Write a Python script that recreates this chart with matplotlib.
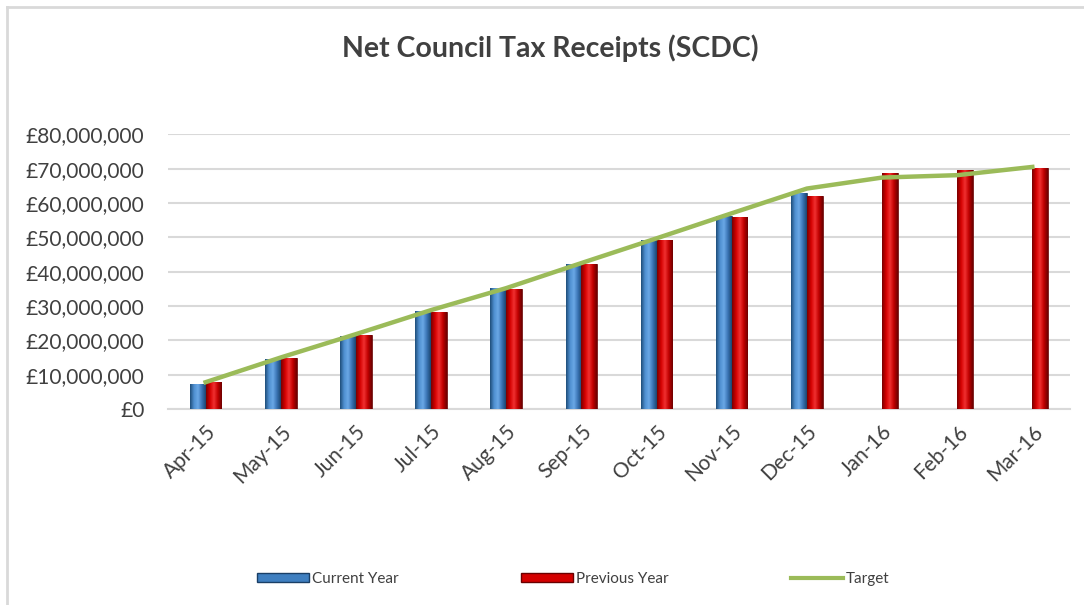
import numpy as np
import matplotlib
matplotlib.use("Agg")
import matplotlib.pyplot as plt
from matplotlib.colors import LinearSegmentedColormap
from matplotlib.lines import Line2D
from matplotlib.patches import Patch

plt.rcParams['font.family'] = ['Lato', 'DejaVu Sans']

# Monthly figures (GBP)
months = ["Apr-15", "May-15", "Jun-15", "Jul-15", "Aug-15", "Sep-15",
          "Oct-15", "Nov-15", "Dec-15", "Jan-16", "Feb-16", "Mar-16"]
current_year = [7.3e6, 14.5e6, 21.2e6, 28.5e6, 35.2e6, 42.2e6,
                49.2e6, 56.1e6, 62.8e6]
previous_year = [7.9e6, 14.9e6, 21.5e6, 28.2e6, 34.9e6, 42.1e6,
                 49.1e6, 55.8e6, 62.0e6, 68.6e6, 69.5e6, 70.3e6]
target = [7.8e6, 15.0e6, 21.8e6, 28.8e6, 35.2e6, 42.5e6,
          49.7e6, 57.0e6, 64.2e6, 67.4e6, 68.1e6, 70.5e6]

blue_map = LinearSegmentedColormap.from_list(
    "cyl_blue", ["#1f4e7a", "#4f8fd0", "#6aa8e6", "#3a74b4", "#1c4670"])
red_map = LinearSegmentedColormap.from_list(
    "cyl_red", ["#7a0000", "#d40000", "#f03030", "#c00000", "#6e0000"])


def shade_bars(ax, bars, cmap):
    # paint each bar with a horizontal gradient so it looks like a cylinder
    grad = np.linspace(0, 1, 64).reshape(1, -1)
    for b in bars:
        x0, y0 = b.get_x(), b.get_y()
        w, h = b.get_width(), b.get_height()
        im = ax.imshow(grad, cmap=cmap, aspect="auto",
                       extent=(x0, x0 + w, y0, y0 + h), zorder=b.get_zorder())
        im.set_clip_path(b)
        b.set_facecolor("none")


fig = plt.figure(figsize=(10.84, 6.05), dpi=100)
ax = fig.add_axes([0.155, 0.324, 0.832, 0.454])

x = np.arange(len(months))
w = 0.21
cb = ax.bar(x[:len(current_year)] - w / 2, current_year, w,
            edgecolor="#1a3f66", linewidth=0.6, zorder=3)
pb = ax.bar(x + w / 2, previous_year, w,
            edgecolor="#6a0000", linewidth=0.6, zorder=3)
shade_bars(ax, cb, blue_map)
shade_bars(ax, pb, red_map)
ax.plot(x, target, color="#9bbb59", linewidth=3.2, zorder=4)

ax.set_xlim(-0.5, len(months) - 0.5)
ax.set_ylim(0, 80e6)
ax.set_yticks(np.arange(0, 80e6 + 1, 10e6))
ax.set_yticklabels(["£{:,.0f}".format(v) for v in np.arange(0, 80e6 + 1, 10e6)])
ax.set_xticks(x)
ax.set_xticklabels(months, rotation=45, ha="right", va="top",
                   rotation_mode="anchor")
ax.tick_params(axis="both", length=0, labelsize=15, colors="#404040")
ax.tick_params(axis="x", pad=9)
ax.tick_params(axis="y", pad=17)
ax.grid(axis="y", color="#d9d9d9", linewidth=1.5, zorder=0)
ax.set_axisbelow(True)
for s in ["top", "right", "left"]:
    ax.spines[s].set_visible(False)
ax.spines["bottom"].set_color("#d9d9d9")
ax.spines["bottom"].set_linewidth(1.5)

fig.text(0.508, 0.921, "Net Council Tax Receipts (SCDC)", ha="center",
         va="center", fontsize=20.5, fontweight="bold", color="#404040")

handles = [Patch(facecolor="#3f7fc0", edgecolor="#1a3f66"),
           Patch(facecolor="#d40000", edgecolor="#6a0000"),
           Line2D([0], [0], color="#9bbb59", linewidth=3)]
fig.legend(handles, ["Current Year", "Previous Year", "Target"],
           loc="center", bbox_to_anchor=(0.529, 0.043), ncol=3, frameon=False,
           fontsize=11, handlelength=3.4, handleheight=0.5,
           handletextpad=0.2, columnspacing=8.0, labelcolor="#404040")

# chart frame (left and top edges)
fig.add_artist(Line2D([0.0065, 0.0065], [0, 0.989], color="#d9d9d9",
                      linewidth=2, transform=fig.transFigure))
fig.add_artist(Line2D([0.0065, 1], [0.989, 0.989], color="#d9d9d9",
                      linewidth=2, transform=fig.transFigure))

fig.savefig("out.png", dpi=100, facecolor="white")
